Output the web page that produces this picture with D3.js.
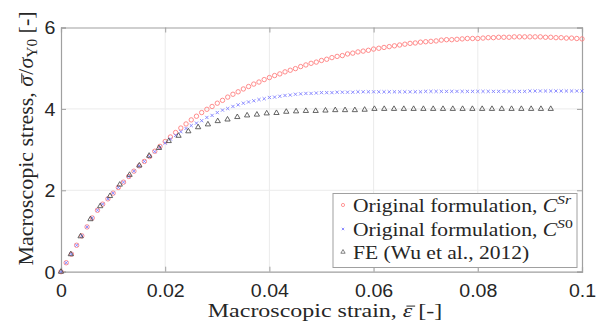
<!DOCTYPE html>
<html>
<head>
<meta charset="utf-8">
<script src="https://d3js.org/d3.v7.min.js"></script>
<style>
  body { margin: 0; background: #fff; }
</style>
</head>
<body>
<svg width="614" height="336"></svg>
<script>
// strain sampling of the two formulation curves and of the FE curve
var strainStep = 0.001;
var feStep = 0.00188;

// Original formulation, C^Sr
var stressSr = [0, 0.22, 0.43, 0.65, 0.88, 1.10, 1.32, 1.51, 1.66, 1.79,
  1.93, 2.07, 2.20, 2.34, 2.47, 2.60, 2.71, 2.83, 2.96, 3.08,
  3.20, 3.31, 3.42, 3.53, 3.63, 3.73, 3.82, 3.91, 3.99, 4.06,
  4.14, 4.21, 4.29, 4.36, 4.42, 4.49, 4.55, 4.61, 4.66, 4.72,
  4.77, 4.82, 4.86, 4.91, 4.95, 4.99, 5.04, 5.08, 5.12, 5.15,
  5.19, 5.22, 5.26, 5.29, 5.31, 5.35, 5.37, 5.40, 5.42, 5.44,
  5.47, 5.49, 5.51, 5.53, 5.55, 5.57, 5.59, 5.61, 5.62, 5.64,
  5.65, 5.66, 5.67, 5.69, 5.70, 5.70, 5.71, 5.72, 5.73, 5.73,
  5.73, 5.74, 5.75, 5.75, 5.76, 5.76, 5.76, 5.77, 5.77, 5.77,
  5.77, 5.77, 5.77, 5.76, 5.76, 5.75, 5.75, 5.74, 5.74, 5.73, 5.72];

// Original formulation, C^S0
var stressS0 = [0, 0.22, 0.43, 0.65, 0.88, 1.10, 1.32, 1.51, 1.66, 1.79,
  1.93, 2.07, 2.20, 2.34, 2.47, 2.60, 2.71, 2.83, 2.95, 3.06,
  3.16, 3.26, 3.35, 3.44, 3.52, 3.59, 3.65, 3.71, 3.79, 3.84,
  3.91, 3.97, 4.01, 4.06, 4.10, 4.14, 4.17, 4.20, 4.23, 4.25,
  4.28, 4.29, 4.31, 4.33, 4.34, 4.36, 4.37, 4.38, 4.38, 4.39,
  4.40, 4.40, 4.40, 4.41, 4.41, 4.41, 4.41, 4.42, 4.42, 4.42,
  4.42, 4.42, 4.42, 4.42, 4.42, 4.42, 4.42, 4.42, 4.42, 4.42,
  4.43, 4.43, 4.43, 4.43, 4.43, 4.43, 4.43, 4.43, 4.43, 4.43,
  4.43, 4.43, 4.43, 4.43, 4.43, 4.43, 4.43, 4.43, 4.43, 4.43,
  4.44, 4.44, 4.44, 4.44, 4.44, 4.44, 4.44, 4.44, 4.44, 4.44, 4.44];

// FE (Wu et al., 2012)
var stressFE = [0, 0.43, 0.87, 1.29, 1.61, 1.86, 2.14, 2.38, 2.61, 2.85,
  3.04, 3.21, 3.34, 3.45, 3.55, 3.62, 3.70, 3.74, 3.80, 3.84,
  3.86, 3.89, 3.90, 3.93, 3.94, 3.95, 3.95, 3.96, 3.97, 3.97,
  3.97, 3.98, 4.00, 4.00, 4.00, 4.00, 4.00, 4.00, 4.00, 4.00,
  4.00, 4.00, 4.00, 4.00, 4.00, 4.00, 4.00, 4.00, 4.00, 4.00, 4.00];

var xTicks = [0, 0.02, 0.04, 0.06, 0.08, 0.1];
var yTicks = [0, 2, 4, 6];

var serif = "'Liberation Serif', 'Times New Roman', serif";
var sans = "'Liberation Sans', Arial, sans-serif";

var svg = d3.select("svg");
var m = {left: 61, right: 582, top: 27.5, bottom: 271.7};

var x = d3.scaleLinear().domain([0, 0.1]).range([m.left, m.right]);
var y = d3.scaleLinear().domain([0, 6]).range([m.bottom, m.top]);

var axisCol = "#a0a0a0";

// grid
svg.append("g")
  .selectAll("line").data(xTicks.slice(1, -1)).enter().append("line")
    .attr("x1", function(d){ return x(d); }).attr("x2", function(d){ return x(d); })
    .attr("y1", m.top).attr("y2", m.bottom)
    .attr("stroke", "#ebebeb").attr("stroke-width", 1);
svg.append("g")
  .selectAll("line").data(yTicks.slice(1, -1)).enter().append("line")
    .attr("y1", function(d){ return y(d); }).attr("y2", function(d){ return y(d); })
    .attr("x1", m.left).attr("x2", m.right)
    .attr("stroke", "#ebebeb").attr("stroke-width", 1);

// axes (inward ticks)
var xAxis = svg.append("g")
    .attr("transform", "translate(0," + m.bottom + ")")
    .call(d3.axisBottom(x).tickValues(xTicks).tickSize(-5).tickPadding(13)
      .tickFormat(function(d){ return String(d); }));
var yAxis = svg.append("g")
    .attr("transform", "translate(" + m.left + ",0)")
    .call(d3.axisLeft(y).tickValues(yTicks).tickSize(-5).tickPadding(6)
      .tickFormat(function(d){ return String(d); }));
svg.append("g")
    .attr("transform", "translate(0," + m.top + ")")
    .call(d3.axisTop(x).tickValues(xTicks).tickSize(-5).tickFormat(""));
svg.append("g")
    .attr("transform", "translate(" + m.right + ",0)")
    .call(d3.axisRight(y).tickValues(yTicks).tickSize(-5).tickFormat(""));

svg.selectAll(".domain").attr("stroke", axisCol).attr("stroke-width", 1.2);
svg.selectAll(".tick line").attr("stroke", axisCol);
svg.selectAll(".tick text").attr("font-family", sans).attr("font-size", 17.5)
  .attr("fill", "#262626").attr("transform", "scale(1.12,1)");
yAxis.selectAll(".tick text").attr("dy", "0.36em").attr("x", -5.5 / 1.12);

// series
var gSr = svg.append("g");
gSr.selectAll("circle").data(stressSr).enter().append("circle")
    .attr("cx", function(d, i){ return x(i * strainStep); })
    .attr("cy", function(d){ return y(d); })
    .attr("r", 2.2)
    .attr("fill", "none").attr("stroke", "#ff7f7f").attr("stroke-width", 0.9);

function cross(g, cx, cy, s, col) {
  g.append("path")
    .attr("d", "M" + (cx - s) + "," + (cy - s) + "L" + (cx + s) + "," + (cy + s) +
               "M" + (cx - s) + "," + (cy + s) + "L" + (cx + s) + "," + (cy - s))
    .attr("stroke", col).attr("stroke-width", 0.9).attr("fill", "none");
}
var gS0 = svg.append("g");
stressS0.forEach(function(d, i){ cross(gS0, x(i * strainStep), y(d), 1.6, "#7f7fff"); });

var tri = d3.symbol().type(d3.symbolTriangle).size(12);
var gFE = svg.append("g");
gFE.selectAll("path").data(stressFE).enter().append("path")
    .attr("d", tri)
    .attr("transform", function(d, i){ return "translate(" + x(i * feStep) + "," + y(d) + ")"; })
    .attr("fill", "none").attr("stroke", "#4a4a4a").attr("stroke-width", 0.85);

// legend
var lg = svg.append("g");
lg.append("rect").attr("x", 333).attr("y", 193.5).attr("width", 244).attr("height", 74)
  .attr("fill", "#fff").attr("stroke", axisCol).attr("stroke-width", 1);
var rows = [205, 229, 252];
lg.append("circle").attr("cx", 343).attr("cy", rows[0]).attr("r", 1.6)
  .attr("fill", "none").attr("stroke", "#ff7f7f").attr("stroke-width", 0.8);
cross(lg, 343, rows[1], 1.2, "#7f7fff");
lg.append("path").attr("d", d3.symbol().type(d3.symbolTriangle).size(8))
  .attr("transform", "translate(343," + rows[2] + ")")
  .attr("fill", "none").attr("stroke", "#505050").attr("stroke-width", 0.7);

function legText(yy, sup) {
  var t = lg.append("text")
    .attr("transform", "translate(353," + (yy + 6.5) + ") scale(1.165,1)")
    .attr("font-family", serif).attr("fill", "#262626").attr("font-size", 18.5);
  if (sup) {
    t.append("tspan").text("Original formulation, ");
    t.append("tspan").attr("font-style", "italic").text("C");
    t.append("tspan").attr("font-size", 13.5).attr("dy", -7.5)
      .attr("font-style", "italic").text(sup[0]);
    t.append("tspan").attr("font-size", 13.5).attr("font-style", sup[1] === "0" ? "normal" : "italic")
      .text(sup[1]);
  } else {
    t.text("FE (Wu et al., 2012)");
  }
}
legText(rows[0], "Sr");
legText(rows[1], "S0");
legText(rows[2], null);

// bar accent drawn as a short line over one character of a tspan
function macron(g, tsp, fs) {
  var n = tsp.node();
  var s = n.getStartPositionOfChar(0), e = n.getEndPositionOfChar(0);
  var yy = s.y - 0.56 * fs;
  g.append("line")
    .attr("x1", s.x + 0.15 * fs).attr("x2", e.x + 0.12 * fs)
    .attr("y1", yy).attr("y2", yy)
    .attr("stroke", "#262626").attr("stroke-width", 1);
}

// axis labels
var xg = svg.append("g").attr("transform", "translate(325,317) scale(1.23,1)");
var xl = xg.append("text").attr("text-anchor", "middle")
  .attr("font-family", serif).attr("fill", "#262626").attr("font-size", 19.5);
xl.append("tspan").text("Macroscopic strain, ");
var eps = xl.append("tspan").attr("font-style", "italic").text("ε");
xl.append("tspan").text(" [-]");
macron(xg, eps, 19.5);

var yg = svg.append("g").attr("transform", "translate(33,138.5) rotate(-90) scale(1.1,1)");
var yl = yg.append("text").attr("text-anchor", "middle")
  .attr("font-family", serif).attr("fill", "#262626").attr("font-size", 20);
yl.append("tspan").text("Macroscopic stress, ");
var sig = yl.append("tspan").attr("font-style", "italic").text("σ");
yl.append("tspan").attr("dx", 1).text("/");
yl.append("tspan").attr("font-style", "italic").text("σ");
yl.append("tspan").attr("font-size", 14).attr("dy", 4).text("Y0");
yl.append("tspan").attr("dy", -4).text(" [-]");
macron(yg, sig, 20);
</script>
</body>
</html>
